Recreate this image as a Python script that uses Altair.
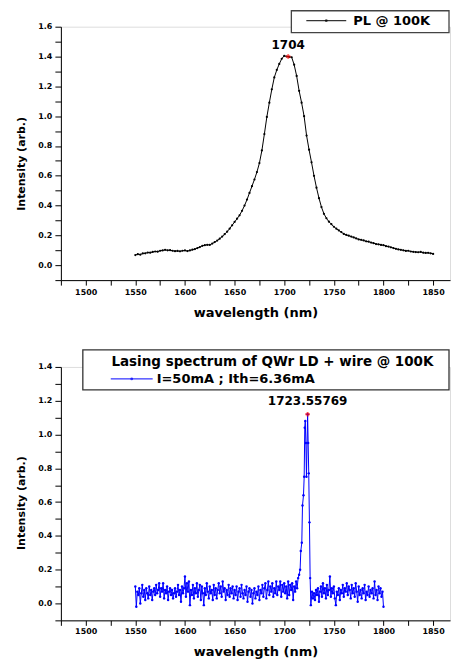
import altair as alt
import pandas as pd

FONT = "DejaVu Sans"

# ---------------- PL spectrum @ 100K ----------------
pl_wl = [1550 + 2.5 * i for i in range(121)]
pl_int = [
    0.068, 0.074, 0.071, 0.079, 0.080, 0.085, 0.084, 0.089, 0.092, 0.091,
    0.097, 0.099, 0.103, 0.100, 0.101, 0.097, 0.094, 0.096, 0.093, 0.097,
    0.099, 0.095, 0.099, 0.104, 0.108, 0.115, 0.122, 0.130, 0.134, 0.137,
    0.136, 0.145, 0.155, 0.165, 0.178, 0.192, 0.208, 0.225, 0.245, 0.268,
    0.290, 0.312, 0.335, 0.365, 0.400, 0.440, 0.485, 0.530, 0.575, 0.625,
    0.685, 0.770, 0.880, 0.995, 1.090, 1.180, 1.260, 1.310, 1.350, 1.385,
    1.405, 1.400, 1.398, 1.395, 1.345, 1.270, 1.170, 1.090, 1.000, 0.870,
    0.775, 0.690, 0.600, 0.520, 0.450, 0.390, 0.345, 0.315, 0.292, 0.275,
    0.258, 0.245, 0.233, 0.222, 0.210, 0.203, 0.198, 0.192, 0.186, 0.180,
    0.173, 0.170, 0.166, 0.160, 0.158, 0.152, 0.148, 0.142, 0.140, 0.136,
    0.134, 0.128, 0.125, 0.120, 0.115, 0.110, 0.106, 0.103, 0.100, 0.096,
    0.097, 0.092, 0.090, 0.088, 0.087, 0.089, 0.084, 0.082, 0.083, 0.080,
    0.076,
]
pl_peak_wl = [1704]
pl_peak_int = [1.40]
pl_peak_label = ["1704"]

# ---------------- Lasing spectrum ----------------
las_left_wl = list(range(1550, 1716))
las_left_int = [
    0.10, -0.02, 0.07, 0.05, 0.09, 0.00, 0.06, 0.11, 0.04, 0.08, 0.02, 0.09, 0.06, 0.03, 0.10, 0.05, 0.08, 0.02, 0.07, 0.09,
    0.05, 0.11, 0.06, 0.08, 0.12, 0.04, 0.09, 0.07, 0.12, 0.03, 0.08, 0.06, 0.10, 0.02, 0.07, 0.09, 0.05, 0.08, 0.03, 0.06,
    0.09, 0.04, 0.07, 0.11, 0.05, 0.08, 0.01, 0.10, 0.06, 0.09, 0.16, 0.04, 0.12, 0.07, 0.13, -0.01, 0.08, 0.05, 0.11, 0.03,
    0.09, 0.06, 0.12, 0.04, 0.08, 0.11, 0.02, 0.10, 0.06, -0.01, 0.09, 0.05, 0.12, 0.07, 0.03, 0.10, 0.06, 0.08, 0.02, 0.11,
    0.05, 0.09, 0.03, 0.08, 0.12, 0.06, 0.10, 0.04, 0.13, 0.07, 0.09, 0.02, 0.08, 0.05, 0.11, 0.04, 0.09, 0.06, 0.10, 0.03,
    0.08, 0.05, 0.10, 0.02, 0.07, 0.09, 0.04, 0.11, 0.06, 0.03, 0.08, 0.05, 0.10, 0.01, 0.07, 0.09, 0.04, 0.08, 0.00, 0.06,
    0.09, 0.03, 0.07, 0.05, 0.10, 0.02, 0.08, 0.06, 0.11, 0.04, 0.09, 0.12, 0.03, 0.08, 0.13, 0.05, 0.10, 0.07, 0.12, 0.04,
    0.09, 0.06, 0.13, 0.05, 0.10, 0.08, 0.13, 0.04, 0.11, 0.07, 0.12, 0.06, 0.10, 0.03, 0.13, 0.05, 0.11, 0.08, 0.12, 0.02,
    0.10, 0.07, 0.13, 0.09, 0.15, 0.17,
]
las_peak_wl = [1716.0, 1716.7, 1717.7, 1718.4, 1719.4, 1720.1, 1720.7, 1721.2,
               1721.8, 1722.4, 1723.56, 1724.1, 1724.7, 1725.4, 1726.1, 1726.8]
las_peak_int = [0.20, 0.31, 0.36, 0.58, 0.64, 0.75, 1.04, 1.08,
                0.95, 0.75, 1.12, 0.95, 0.77, 0.48, 0.15, -0.01]
las_right_wl = list(range(1728, 1801))
las_right_int = [
    0.07, 0.03, 0.06, 0.02, 0.08, 0.05, 0.09, 0.01, 0.07, 0.10, 0.04, 0.12, 0.06, 0.09, 0.03, 0.11, 0.05, 0.08, 0.16, 0.04,
    0.09, 0.06, 0.10, 0.03, -0.01, 0.07, 0.05, 0.09, 0.02, 0.08, 0.06, 0.11, 0.04, 0.09, 0.07, 0.12, 0.05, 0.10, 0.08, 0.03,
    0.11, 0.06, 0.09, 0.04, 0.12, 0.07, 0.01, 0.10, 0.05, 0.08, 0.03, 0.09, 0.06, 0.11, 0.02, 0.07, 0.05, 0.10, 0.04, 0.08,
    0.06, 0.09, 0.03, 0.13, 0.05, 0.08, 0.02, 0.10, 0.06, 0.09, 0.04, 0.07, -0.02,
]
las_max_wl = [1723.55769]
las_max_int = [1.12]
las_max_label = ["1723.55769"]

pl_df = pd.DataFrame({"wl": pl_wl, "I": pl_int})
pl_pk = pd.DataFrame({"wl": pl_peak_wl, "I": pl_peak_int, "t": pl_peak_label})
las_df = pd.DataFrame({
    "wl": las_left_wl + las_peak_wl + las_right_wl,
    "I": las_left_int + las_peak_int + las_right_int,
})
las_pk = pd.DataFrame({"wl": las_max_wl, "I": las_max_int, "t": las_max_label})
one = pd.DataFrame({"k": [0]})

x_ticks = [1475 + 25 * i for i in range(16)]
W, H = 390, 254
X_DOMAIN = [1475, 1867]


def y_ticks(top):
    n = int(round((top + 0.1) / 0.1))
    return [round(-0.1 + 0.1 * i, 1) for i in range(n + 1)]


def x_axis(label_pad, title_pad):
    return alt.Axis(
        title="wavelength (nm)", values=x_ticks, tickCount=100, format="d",
        labelExpr="datum.value % 50 == 0 ? datum.label : ''",
        tickSize=5, labelPadding=label_pad, titlePadding=title_pad,
        grid=False, labelFont=FONT, labelFontSize=8, labelFontWeight="bold",
        titleFont=FONT, titleFontSize=13, titleFontWeight="bold",
        domainColor="black", tickColor="black", labelColor="black",
        titleColor="black", labelOverlap=False,
    )


def y_axis(top, title_y):
    return alt.Axis(
        title="Intensity (arb.)", values=y_ticks(top), tickCount=100,
        labelExpr="abs(round(datum.value * 10)) % 2 == 0 ? format(datum.value, '.1f') : ''",
        tickSize=6, labelPadding=3, titlePadding=11, titleY=title_y,
        grid=False, labelFont=FONT, labelFontSize=8, labelFontWeight="bold",
        titleFont=FONT, titleFontSize=11, titleFontWeight="bold",
        domainColor="black", tickColor="black", labelColor="black",
        titleColor="black", labelOverlap=False,
    )


def legend_text(x, y, text, align="left", size=12):
    return alt.Chart(one).mark_text(
        align=align, baseline="middle", font=FONT, fontWeight="bold",
        fontSize=size, color="black",
    ).encode(x=alt.value(x), y=alt.value(y), text=alt.value(text))


# ---------------- top panel ----------------
xs_top = alt.X("wl:Q", scale=alt.Scale(domain=X_DOMAIN, nice=False, zero=False), axis=x_axis(3, 10))
ys_top = alt.Y("I:Q", scale=alt.Scale(domain=[-0.1, 1.6], nice=False, zero=False), axis=y_axis(1.6, 137))

top_line = alt.Chart(pl_df).mark_line(
    color="black", strokeWidth=1,
    point=alt.OverlayMarkDef(color="black", size=5, filled=True),
).encode(x=xs_top, y=ys_top)
top_mark = alt.Chart(pl_pk).mark_point(shape="cross", color="red", filled=True, size=22).encode(x="wl:Q", y="I:Q")
top_lab = alt.Chart(pl_pk).mark_text(
    font=FONT, fontWeight="bold", fontSize=12, dy=-12, color="black"
).encode(x="wl:Q", y="I:Q", text="t:N")
top_box = alt.Chart(one).mark_rect(fill="white", stroke="#444444", strokeWidth=1.3).encode(
    x=alt.value(231), x2=alt.value(389), y=alt.value(-16), y2=alt.value(6))
top_sym = alt.Chart(one).mark_rule(color="black", strokeWidth=1).encode(
    x=alt.value(246), x2=alt.value(286), y=alt.value(-6))
top_dot = alt.Chart(one).mark_point(color="black", filled=True, size=8).encode(
    x=alt.value(266), y=alt.value(-6))
top_txt = legend_text(293, -6, "PL @ 100K", size=13)

top = alt.layer(top_line, top_mark, top_lab, top_box, top_sym, top_dot, top_txt).properties(width=W, height=H)

# ---------------- bottom panel ----------------
xs_bot = alt.X("wl:Q", scale=alt.Scale(domain=X_DOMAIN, nice=False, zero=False), axis=x_axis(2, 10))
ys_bot = alt.Y("I:Q", scale=alt.Scale(domain=[-0.1, 1.4], nice=False, zero=False), axis=y_axis(1.4, 136))

bot_line = alt.Chart(las_df).mark_line(
    color="#0000ff", strokeWidth=1,
    point=alt.OverlayMarkDef(color="#0000ff", size=6, filled=True),
).encode(x=xs_bot, y=ys_bot)
bot_mark = alt.Chart(las_pk).mark_point(shape="cross", color="red", filled=True, size=22).encode(x="wl:Q", y="I:Q")
bot_lab = alt.Chart(las_pk).mark_text(
    font=FONT, fontWeight="bold", fontSize=12, dy=-13, color="black"
).encode(x="wl:Q", y="I:Q", text="t:N")
bot_box = alt.Chart(one).mark_rect(fill="white", stroke="#333333", strokeWidth=1.3).encode(
    x=alt.value(22), x2=alt.value(389), y=alt.value(-17), y2=alt.value(23))
bot_title = legend_text(212, -5, "Lasing spectrum of QWr LD + wire @ 100K", align="center", size=13.5)
bot_sym = alt.Chart(one).mark_rule(color="#0000ff", strokeWidth=1).encode(
    x=alt.value(50), x2=alt.value(92), y=alt.value(12))
bot_dot = alt.Chart(one).mark_point(color="#0000ff", filled=True, size=8).encode(
    x=alt.value(71), y=alt.value(12))
bot_txt = legend_text(96, 12, "I=50mA ; Ith=6.36mA", size=13)

bottom = alt.layer(bot_line, bot_mark, bot_lab, bot_box, bot_title, bot_sym, bot_dot, bot_txt).properties(width=W, height=H)

chart = alt.vconcat(top, bottom, spacing=28).properties(
    padding={"left": 7, "top": 0, "right": 0, "bottom": 0}
).configure_view(stroke=None).configure(background="white")

chart.save("out.html", embed_options={"renderer": "svg", "actions": False})
